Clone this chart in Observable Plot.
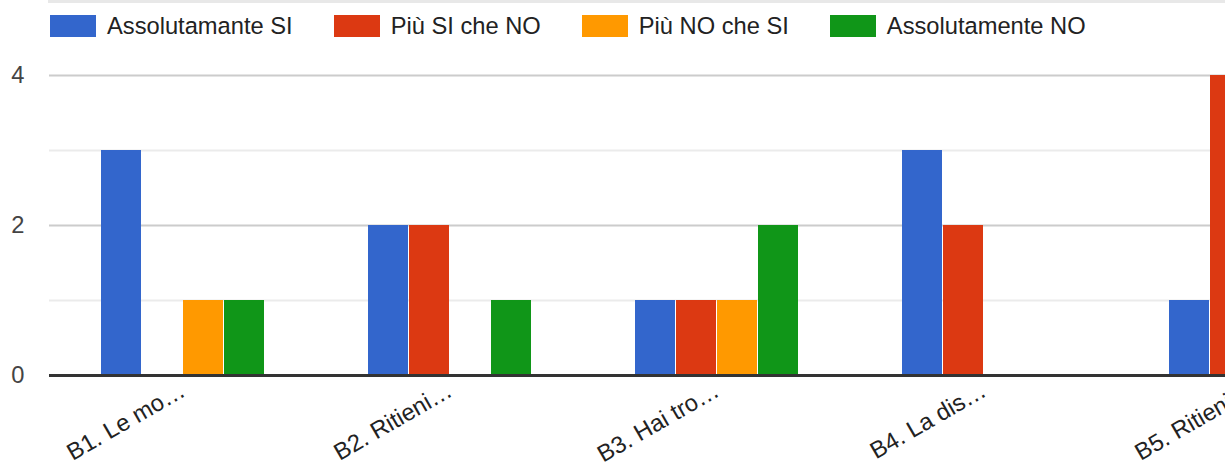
<!DOCTYPE html>
<html>
<head>
<meta charset="utf-8">
<script src="https://cdn.jsdelivr.net/npm/d3@7"></script>
<script src="https://cdn.jsdelivr.net/npm/@observablehq/plot@0.6"></script>
<style>
  html, body { margin: 0; padding: 0; background: #fff; overflow: hidden; width: 1225px; height: 468px; }
  body { font-family: "Liberation Sans", Arial, sans-serif; position: relative; }
  #topline { position: absolute; left: 48px; top: 0; width: 1177px; height: 3px; background: #e8e8e8; }
  #legend { position: relative; height: 50px; display: flex; align-items: center; padding-left: 50px; box-sizing: border-box; padding-top: 2px; }
  .item { display: flex; align-items: center; margin-right: 41px; }
  .sw { width: 46px; height: 22px; margin-right: 11px; }
  .lab { font-size: 23.7px; color: #222; white-space: nowrap; line-height: 22px; }
  #chart { width: 1225px; overflow: hidden; }
</style>
</head>
<body>
<div id="topline"></div>
<div id="legend"></div>
<div id="chart"></div>
<script>
const questions = ["B1. Le mo…", "B2. Ritieni…", "B3. Hai tro…", "B4. La dis…", "B5. Ritieni…"];
const series = ["Assolutamante SI", "Più SI che NO", "Più NO che SI", "Assolutamente NO"];
const colors = ["#3366cc", "#dc3912", "#ff9900", "#109618"];
const assolutamanteSi = [3, 2, 1, 3, 1];
const piuSiCheNo = [0, 2, 1, 2, 4];
const piuNoCheSi = [1, 0, 1, 0, 0];
const assolutamenteNo = [1, 1, 2, 0, 0];
const yTicks = [0, 2, 4];

const values = [assolutamanteSi, piuSiCheNo, piuNoCheSi, assolutamenteNo];
const data = [];
questions.forEach((q, i) => series.forEach((s, j) => data.push({q, s, v: values[j][i]})));

// legend
const legend = document.getElementById("legend");
series.forEach((s, j) => {
  const it = document.createElement("div");
  it.className = "item";
  const sw = document.createElement("div");
  sw.className = "sw";
  sw.style.background = colors[j];
  const lab = document.createElement("span");
  lab.className = "lab";
  lab.textContent = s;
  it.appendChild(sw); it.appendChild(lab);
  legend.appendChild(it);
});

const step = 267.5;
const left = 48;
const plot = Plot.plot({
  width: 1225,
  height: 418,
  marginTop: 25,
  marginBottom: 93,
  marginLeft: left,
  marginRight: 0,
  style: {fontFamily: "'Liberation Sans', Arial, sans-serif", fontSize: "23.7px", background: "#fff"},
  fx: {domain: questions, range: [left, left + step * questions.length], padding: 0, axis: null},
  x: {domain: series, padding: 0, paddingOuter: 1.1845, align: 0.508, axis: null},
  y: {domain: [0, 4], axis: null},
  color: {domain: series, range: colors},
  marks: [
    Plot.ruleY([1, 3], {stroke: "#ebebeb", strokeWidth: 2}),
    Plot.ruleY([2, 4], {stroke: "#cccccc", strokeWidth: 2}),
    Plot.barY(data, {fx: "q", x: "s", y: "v", fill: "s", insetRight: 1}),
    Plot.ruleY([0], {stroke: "#333333", strokeWidth: 3}),
    Plot.axisY({ticks: yTicks, tickFormat: d3.format("d"), tickSize: 0, tickPadding: 25, fill: "#444", fontSize: 23.7, label: null}),
    Plot.axisFx({anchor: "bottom", tickRotate: -30, tickSize: 0, tickPadding: 13, fill: "#222", fontSize: 23.7, label: null, lineWidth: Infinity, textOverflow: null})
  ]
});
document.getElementById("chart").appendChild(plot);
</script>
</body>
</html>
